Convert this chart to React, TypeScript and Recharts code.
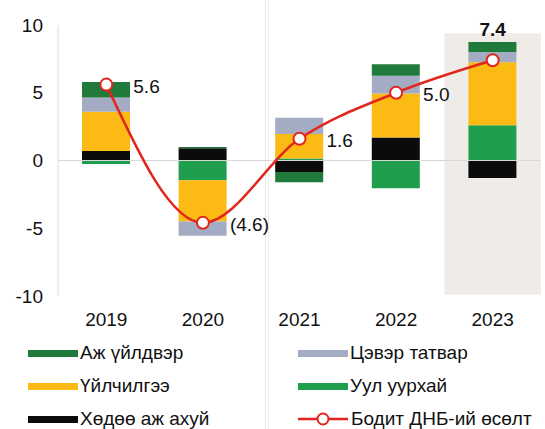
import { Bar, ComposedChart, Line, ReferenceArea, ReferenceLine, XAxis, YAxis } from "recharts";

const years = ["2019", "2020", "2021", "2022", "2023"];
const agriculture = [0.7, 0.9, -0.85, 1.7, -1.3];
const mining = [-0.25, -1.45, 0.15, -2.05, 2.6];
const services = [2.9, -3.05, 1.8, 3.25, 4.65];
const netTax = [1.05, -1.05, 1.2, 1.3, 0.75];
const industry = [1.15, 0.1, -0.75, 0.85, 0.75];
const gdp = [5.6, -4.6, 1.6, 5.0, 7.4];
const yTicks = [-10, -5, 0, 5, 10];

const data = years.map((year, i) => ({
  year,
  agriculture: agriculture[i],
  mining: mining[i],
  services: services[i],
  netTax: netTax[i],
  industry: industry[i],
  gdp: gdp[i],
}));

const FONT = "'Liberation Sans', Arial, sans-serif";
const RED = "#e2261d";

const legendItems = [
  { name: "Аж үйлдвэр", color: "#1f7a3b" },
  { name: "Цэвэр татвар", color: "#a4acc4" },
  { name: "Үйлчилгээ", color: "#fcbb14" },
  { name: "Уул уурхай", color: "#1f9e4e" },
  { name: "Хөдөө аж ахуй", color: "#0b0b0b" },
  { name: "Бодит ДНБ-ий өсөлт", color: RED, line: true },
];

const fmt = (v: number) => (v < 0 ? `(${Math.abs(v).toFixed(1)})` : v.toFixed(1));

const GdpLabel = (props: any) => {
  const { x, y, value, index } = props;
  if (index === years.length - 1) {
    return (
      <text x={x} y={y - 31} textAnchor="middle" dominantBaseline="central" fontSize={19} fontWeight="bold" fill="#111">
        {fmt(value)}
      </text>
    );
  }
  return (
    <text x={x + 27} y={y + 2} textAnchor="start" dominantBaseline="central" fontSize={19} fill="#111">
      {fmt(value)}
    </text>
  );
};

export default function App() {
  return (
    <div style={{ position: "absolute", left: 0, top: 0, width: 545, height: 429, background: "#fff", fontFamily: FONT, overflow: "hidden" }}>
      <div style={{ position: "absolute", left: 265, top: 0, width: 1, height: 429, background: "#e6e6e6" }} />
      <div style={{ position: "absolute", left: 268, top: 0, width: 1, height: 429, background: "#ececec" }} />
      <ComposedChart
        width={545}
        height={335}
        data={data}
        stackOffset="sign"
        margin={{ top: 25, right: 4, bottom: 9, left: 0 }}
        style={{ fontFamily: FONT }}
      >
        <ReferenceArea x1="2023" x2="2023" y1={-9.9} y2={9.4} fill="#efece8" fillOpacity={1} stroke="none" />
        <XAxis dataKey="year" axisLine={false} tickLine={false} tickMargin={11} tick={{ fill: "#111", fontSize: 19 }} />
        <YAxis
          domain={[-10, 10]}
          ticks={yTicks}
          width={58}
          axisLine={{ stroke: "#dcdcdc" }}
          tickLine={false}
          tickMargin={9}
          tick={{ fill: "#111", fontSize: 19 }}
        />
        <ReferenceLine y={0} stroke="#d8d8d8" />
        <Bar dataKey="agriculture" stackId="a" fill="#0b0b0b" barSize={48} isAnimationActive={false} />
        <Bar dataKey="mining" stackId="a" fill="#1f9e4e" barSize={48} isAnimationActive={false} />
        <Bar dataKey="services" stackId="a" fill="#fcbb14" barSize={48} isAnimationActive={false} />
        <Bar dataKey="netTax" stackId="a" fill="#a4acc4" barSize={48} isAnimationActive={false} />
        <Bar dataKey="industry" stackId="a" fill="#1f7a3b" barSize={48} isAnimationActive={false} />
        <Line
          dataKey="gdp"
          type="monotone"
          stroke={RED}
          strokeWidth={2.5}
          dot={{ r: 6, fill: "#fff", stroke: RED, strokeWidth: 2 }}
          label={<GdpLabel />}
          isAnimationActive={false}
        />
      </ComposedChart>
      <div
        style={{
          position: "absolute",
          left: 28,
          top: 341,
          display: "grid",
          gridTemplateColumns: "270px 240px",
          rowGap: 9,
          fontSize: 19,
          color: "#111",
        }}
      >
        {legendItems.map((item) => (
          <div key={item.name} style={{ display: "flex", alignItems: "center", height: 24 }}>
            {item.line ? (
              <svg width={50} height={14} style={{ marginRight: 3 }}>
                <line x1={0} y1={7} x2={50} y2={7} stroke={item.color} strokeWidth={2.5} />
                <circle cx={25} cy={7} r={5.5} fill="#fff" stroke={item.color} strokeWidth={2} />
              </svg>
            ) : (
              <span style={{ display: "inline-block", width: 50, height: 7, background: item.color, marginRight: 2 }} />
            )}
            <span>{item.name}</span>
          </div>
        ))}
      </div>
    </div>
  );
}
